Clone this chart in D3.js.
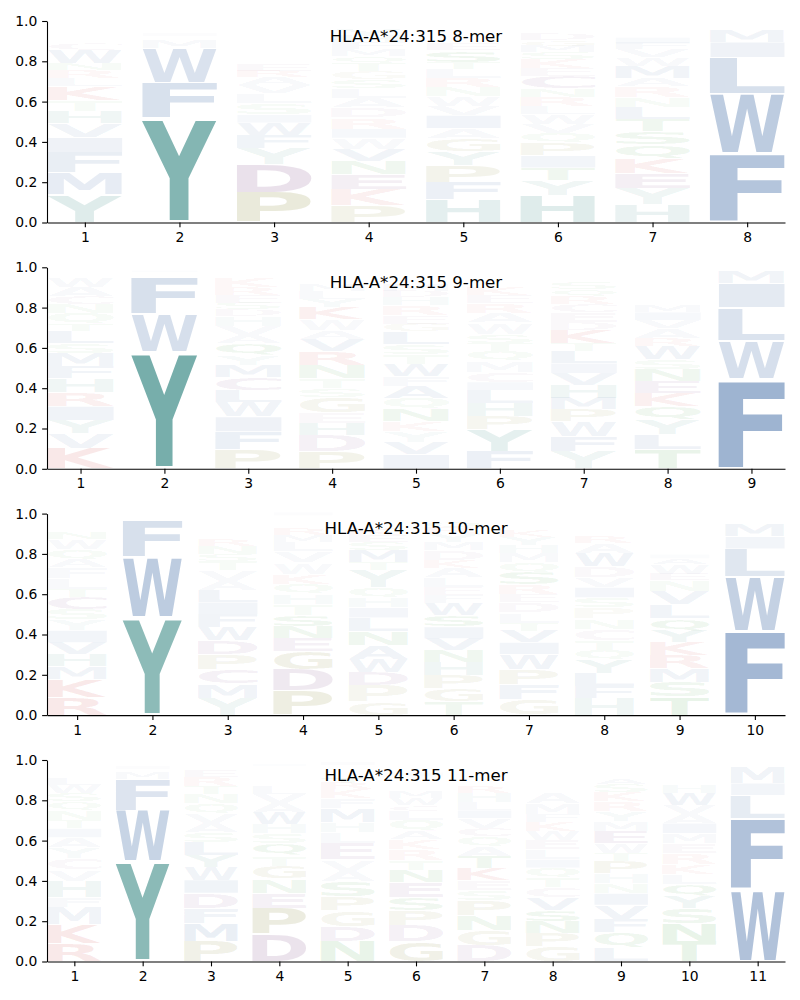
<!DOCTYPE html>
<html><head><meta charset="utf-8">
<script src="https://cdn.jsdelivr.net/npm/d3@7"></script>
<style>body{margin:0;background:#fff}</style>
</head><body><svg id="c" width="800" height="1000"></svg>
<script>
// ---------- data (letters listed bottom -> top, with their probabilities) ----------
const titles = ["HLA-A*24:315 8-mer","HLA-A*24:315 9-mer","HLA-A*24:315 10-mer","HLA-A*24:315 11-mer"];
const yTicks = [0, 0.2, 0.4, 0.6, 0.8, 1.0];

const letters8 = ["YMFIVHTKLRNWCSAEDQGP","YFWMLIVHQK","PDYFWISLVARENTQKG","PKENVWIRDALSGTQMFHYC",
  "HFPYGAIVWNRLTSEDKMQC","HYTIPQVWLRNCEKSMGDAF","HYEKQSTLNRAMWVFIDGPC","FWLIMVY"];
const values8 = [
  [.138,.11,.10,.073,.07,.06,.055,.07,.04,.04,.033,.066,.033,.025,.02,.02,.015,.015,.01,.01],
  [.52,.175,.17,.04,.02,.015,.01,.01,.01,.005],
  [.15,.14,.08,.065,.06,.04,.055,.05,.04,.04,.03,.03,.025,.025,.02,.02,.02],
  [.085,.08,.075,.065,.06,.055,.045,.055,.05,.045,.05,.045,.04,.04,.035,.035,.035,.03,.03,.015],
  [.112,.086,.084,.07,.066,.05,.063,.045,.05,.046,.046,.045,.033,.058,.03,.025,.025,.025,.02,.015],
  [.137,.074,.06,.06,.063,.05,.045,.05,.04,.045,.04,.06,.04,.045,.035,.03,.03,.03,.02,.02],
  [.09,.078,.075,.075,.07,.065,.06,.06,.05,.055,.04,.06,.04,.04,.03,.03,.025,.02,.02,.01],
  [.34,.30,.18,.075,.06,.02,.015]
];

const letters9 = ["KVYIRHFMSLTQNCAWEDG","YWFLMI","PFIWLCMYQAVHDSERK","PDHEGSTNRVAWKYLM",
  "IVYKNQAFWTSLGERHDMPC","FYPHLICMQTSWAREKGNDV","YFWPMHVILTKDECRQSGNA","TLYQKENSWRAVIMFHDPCG","FWLIMVY"];
const values9 = [
  [.10,.074,.066,.07,.07,.068,.06,.066,.05,.06,.033,.055,.045,.04,.045,.045,.02,.015,.01],
  [.58,.19,.185,.01,.01,.01],
  [.094,.09,.074,.074,.058,.066,.058,.05,.058,.04,.045,.05,.033,.033,.04,.04,.05],
  [.085,.08,.06,.055,.075,.045,.05,.065,.07,.06,.04,.055,.06,.04,.04,.03],
  [.07,.06,.055,.05,.06,.055,.06,.05,.06,.05,.05,.06,.04,.04,.05,.04,.03,.03,.02,.02],
  [.085,.11,.065,.065,.065,.04,.05,.055,.05,.04,.045,.055,.045,.05,.04,.04,.025,.02,.01,.02],
  [.085,.075,.075,.058,.058,.065,.058,.05,.058,.04,.065,.04,.05,.04,.04,.035,.035,.02,.015,.015],
  [.095,.075,.075,.065,.065,.058,.058,.05,.066,.04,.05,.04,.04,.035,.02,.02,.02,.015,.01,.01],
  [.445,.19,.165,.12,.06,.01,.005]
];

const letters10 = ["RKMHVIYSCTLFAQWNEDGP","YWFML","YMCPDWFILAVTSNRKEGQH","PDGENSTHQKWVLMRFAYIC",
  "GPDWANLIHQYTMSEKRVFC","TGPHNVISWFELAKDMYRQC","GFPWIVTLDERSQMHYKANC","HFLYQTCNPSIVDWARKEMG",
  "TSMRKYQLVNEWAIFHDGPC","FWLIMVY"];
const values10 = [
  [.09,.09,.06,.06,.06,.06,.053,.053,.06,.04,.053,.053,.04,.05,.05,.03,.02,.015,.01,.01],
  [.485,.30,.18,.015,.01],
  [.085,.07,.07,.075,.07,.065,.065,.06,.06,.045,.055,.045,.035,.04,.03,.015,.01,.005,.005,.005],
  [.12,.105,.09,.065,.058,.058,.055,.05,.05,.05,.055,.055,.045,.035,.03,.025,.025,.02,.015,.01],
  [.066,.08,.066,.066,.07,.07,.065,.05,.05,.05,.085,.04,.06,.04,.035,.03,.025,.025,.02,.01],
  [.066,.066,.066,.066,.058,.058,.058,.058,.06,.04,.04,.045,.05,.04,.045,.04,.04,.03,.03,.02],
  [.08,.074,.074,.074,.058,.058,.04,.05,.05,.04,.05,.06,.05,.045,.04,.04,.03,.02,.02,.01],
  [.085,.058,.065,.065,.05,.05,.055,.05,.055,.05,.05,.05,.055,.065,.05,.035,.025,.02,.015,.01],
  [.09,.075,.065,.065,.065,.058,.06,.07,.065,.055,.03,.05,.03,.02,.02,.02,.02,.02,.015,.01],
  [.415,.27,.14,.06,.06,.02,.015]
];

const letters11 = ["RKMFHVCYAITNQSWLEDGP","YWFMLIHV","PMFDIWYLSAVQNTREKHGC","DPENGTQSHWAVLKRMYFIC",
  "NDGPSAVELHMFKRTQYWIC","GDPSENTRKAQLCWMHYVIF","DGNPSEKTAQCVILHRMYWF","GPNSVCTQILEWKFMARDHY",
  "LQFVINHPTWEMYRKSADGC","TNSYQLKREMIAVWHGDFCP","WFLIMYV"];
const values11 = [
  [.09,.095,.085,.05,.08,.055,.055,.055,.05,.045,.04,.05,.045,.04,.04,.035,.02,.015,.01,.005],
  [.495,.255,.155,.03,.02,.015,.01,.01],
  [.1,.09,.075,.075,.065,.065,.058,.065,.05,.045,.045,.05,.045,.04,.045,.03,.025,.015,.01,.005],
  [.135,.13,.075,.07,.065,.05,.06,.05,.045,.06,.045,.045,.04,.025,.02,.02,.02,.015,.01,.005],
  [.1,.075,.08,.065,.075,.055,.055,.08,.055,.05,.07,.05,.045,.03,.03,.025,.02,.015,.015,.01],
  [.1,.08,.075,.065,.075,.058,.05,.055,.05,.04,.055,.045,.03,.035,.03,.025,.025,.025,.02,.01],
  [.08,.075,.075,.075,.05,.05,.058,.058,.05,.05,.04,.05,.04,.04,.045,.035,.025,.025,.015,.02],
  [.075,.065,.058,.058,.06,.05,.05,.05,.04,.05,.045,.045,.045,.04,.055,.055,.02,.02,.01,.01],
  [.07,.075,.065,.07,.058,.05,.05,.058,.04,.05,.058,.05,.05,.05,.045,.04,.03,.025,.01,.01],
  [.1,.09,.075,.058,.058,.05,.05,.055,.05,.05,.05,.045,.045,.06,.04,.02,.02,.015,.01,.01],
  [.355,.355,.115,.06,.08,.01,.01]
];

const panels = [
  {letters: letters8, values: values8},
  {letters: letters9, values: values9},
  {letters: letters10, values: values10},
  {letters: letters11, values: values11}
];

// colour groups
const groupColors = {
  blue: "#245598", teal: "#14736e", red: "#c81e1e",
  purple: "#6a2c70", olive: "#707010", green: "#1e8c1e"
};
const groupLetters = {
  blue: "FWLIMVA", teal: "YH", red: "KR", purple: "DEC", olive: "PG", green: "NQST"
};
const colorOf = {};
Object.keys(groupLetters).forEach(g => { for (const ch of groupLetters[g]) colorOf[ch] = groupColors[g]; });

// ---------- layout ----------
const W = 800;
const left = 47, right = 785;
const tops = [21, 267.3, 513.6, 760];
const plotH = 201.5;
const FONT = '"DejaVu Sans", sans-serif';
const GLYPH_FONT = '"DejaVu Sans"';
const letterWidth = 0.79;
const vpad = 0.05;

const svg = d3.select("#c");

// glyph ink metrics via canvas
const ctx = document.createElement("canvas").getContext("2d");
ctx.font = 'bold 100px ' + GLYPH_FONT;
const metrics = {};
function metric(ch) {
  if (!metrics[ch]) {
    const m = ctx.measureText(ch);
    metrics[ch] = {l: m.actualBoundingBoxLeft, r: m.actualBoundingBoxRight,
                   a: m.actualBoundingBoxAscent, d: m.actualBoundingBoxDescent};
  }
  return metrics[ch];
}

panels.forEach((p, pi) => {
  const n = p.letters.length;
  const top = tops[pi];
  const x = d3.scaleLinear().domain([0.6, n + 0.4]).range([left, right]);
  const y = d3.scaleLinear().domain([0, 1]).range([top + plotH, top]);
  const g = svg.append("g");

  p.letters.forEach((str, i) => {
    const pos = i + 1;
    const vals = p.values[i];
    let base = 0;
    for (let k = 0; k < str.length; k++) {
      const ch = str[k];
      const v = vals[k];
      const y0 = base + v * vpad / 2, y1 = base + v - v * vpad / 2;
      base += v;
      const m = metric(ch);
      const x0 = x(pos - letterWidth / 2), x1 = x(pos + letterWidth / 2);
      const py0 = y(y1), py1 = y(y0);
      const sx = (x1 - x0) / (m.l + m.r);
      const sy = (py1 - py0) / (m.a + m.d);
      g.append("text")
        .attr("x", 0).attr("y", 0)
        .attr("font-family", GLYPH_FONT)
        .attr("font-weight", "bold")
        .attr("font-size", 100)
        .attr("fill", colorOf[ch])
        .attr("fill-opacity", Math.min(1, v))
        .attr("transform", `translate(${x0},${py0}) scale(${sx},${sy}) translate(${m.l},${m.a})`)
        .text(ch);
    }
  });

  // axes
  const ax = svg.append("g").attr("transform", `translate(0,${top + plotH})`)
    .call(d3.axisBottom(x).tickValues(d3.range(1, n + 1)).tickFormat(d3.format("d"))
      .tickSize(4.86).tickPadding(4.86).tickSizeOuter(0));
  const ay = svg.append("g").attr("transform", `translate(${left},0)`)
    .call(d3.axisLeft(y).tickValues(yTicks).tickFormat(d3.format(".1f"))
      .tickSize(4.86).tickPadding(4.86).tickSizeOuter(0));
  [ax, ay].forEach(a => {
    a.selectAll("text").attr("font-family", FONT).attr("font-size", "13.9px").attr("fill", "#000");
    a.selectAll("line").attr("stroke", "#000").attr("stroke-width", 1.1);
    a.select(".domain").attr("stroke", "#000").attr("stroke-width", 1.1);
  });

  svg.append("text")
    .attr("x", (left + right) / 2).attr("y", top + 20.7)
    .attr("text-anchor", "middle")
    .attr("font-family", FONT).attr("font-size", "16.67px").attr("fill", "#000")
    .text(titles[pi]);
});
</script>
</body></html>
